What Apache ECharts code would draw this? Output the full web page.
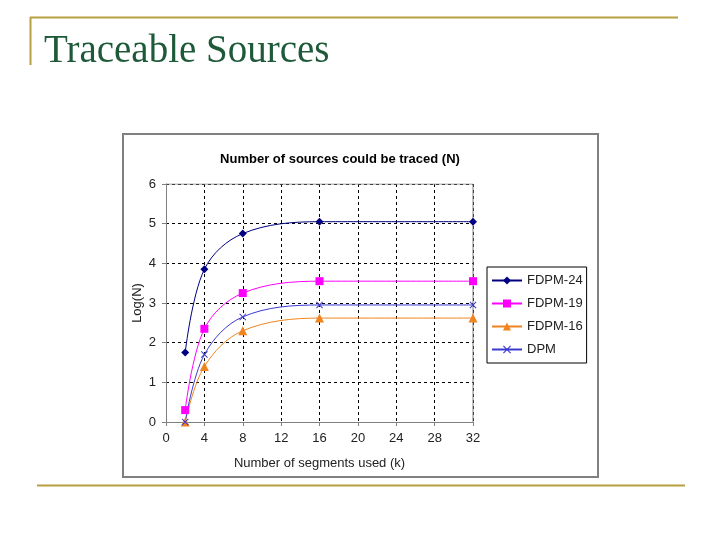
<!DOCTYPE html>
<html><head><meta charset="utf-8">
<script src="https://cdn.jsdelivr.net/npm/echarts@6/dist/echarts.min.js"></script>
<style>html,body{margin:0;padding:0;background:#fff}#c{width:720px;height:540px}</style>
</head><body><div id="c"></div>
<script>
var segments = [2, 4, 8, 16, 32];
var fdpm24 = [1.75, 3.85, 4.75, 5.05, 5.05];
var fdpm19 = [0.3, 2.35, 3.25, 3.55, 3.55];
var fdpm16 = [0.0, 1.4, 2.3, 2.62, 2.62];
var dpm = [0.0, 1.7, 2.65, 2.95, 2.95];
var seriesNames = ['FDPM-24', 'FDPM-19', 'FDPM-16', 'DPM'];
var xTicks = [0, 4, 8, 12, 16, 20, 24, 28, 32];
var yTicks = [0, 1, 2, 3, 4, 5, 6];

function pairs(v){ return segments.map(function(x,i){ return [x, v[i]]; }); }
var xPath = 'path://M0,1L1,0L5,4L9,0L10,1L6,5L10,9L9,10L5,6L1,10L0,9L4,5Z';
var colors = ['#000080', '#ff00ff', '#f0841e', '#3a3ad0'];
var symbols = ['diamond', 'rect', 'triangle', xPath];
var sizes = [8, 8, 9, 7];
var dataSets = [fdpm24, fdpm19, fdpm16, dpm];

var chart = echarts.init(document.getElementById('c'));
var font = 'Arial, "Liberation Sans", sans-serif';
chart.setOption({
  backgroundColor: '#fff',
  animation: false,
  graphic: [
    {type:'line', shape:{x1:30,y1:17.5,x2:678,y2:17.5}, style:{stroke:'#b8a040', lineWidth:2}},
    {type:'line', shape:{x1:30.5,y1:17,x2:30.5,y2:65}, style:{stroke:'#b8a040', lineWidth:2}},
    {type:'line', shape:{x1:37,y1:485.5,x2:685,y2:485.5}, style:{stroke:'#b8a040', lineWidth:2}},
    {type:'rect', z:-10, shape:{x:123,y:134,width:475,height:343}, style:{fill:'#fff', stroke:'#808080', lineWidth:2}},
    {type:'text', left:44, top:32, style:{text:'Traceable Sources', fill:'#1e5a3a', font:'39px "Liberation Serif", "Times New Roman", serif'}}
  ],
  title: {
    text: 'Number of sources could be traced (N)',
    left: 335, top: 148, textAlign: 'center',
    textStyle: {fontFamily: font, fontSize: 13, fontWeight: 'bold', color: '#000'}
  },
  legend: {
    orient: 'vertical', left: 487, top: 267,
    padding: [7, 4, 7, 4], itemGap: 10, itemWidth: 30, itemHeight: 10,
    borderColor: '#000', borderWidth: 1, backgroundColor: '#fff',
    data: seriesNames,
    textStyle: {fontFamily: font, fontSize: 13, color: '#222'}
  },
  grid: {left: 166, right: 247, top: 184, bottom: 118},
  xAxis: {
    type: 'value', min: 0, max: 32, interval: 4,
    name: 'Number of segments used (k)', nameLocation: 'middle', nameGap: 35,
    nameTextStyle: {fontFamily: font, fontSize: 13, color: '#222'},
    axisLine: {show: true, lineStyle: {color: '#808080'}},
    axisTick: {show: true, length: 4, lineStyle: {color: '#808080'}},
    axisLabel: {fontFamily: font, fontSize: 13, color: '#222', margin: 10,
      formatter: function(v){ return xTicks.indexOf(v) >= 0 ? String(v) : ''; }},
    splitLine: {show: true, lineStyle: {color: '#000', type: [3, 3], width: 1}}
  },
  yAxis: {
    type: 'value', min: 0, max: 6, interval: 1,
    name: 'Log(N)', nameLocation: 'middle', nameGap: 22, nameRotate: 90,
    nameTextStyle: {fontFamily: font, fontSize: 13, color: '#222'},
    axisLine: {show: true, lineStyle: {color: '#808080'}},
    axisTick: {show: true, length: 4, lineStyle: {color: '#808080'}},
    axisLabel: {fontFamily: font, fontSize: 13, color: '#222', margin: 10,
      formatter: function(v){ return yTicks.indexOf(v) >= 0 ? String(v) : ''; }},
    splitLine: {show: true, lineStyle: {color: '#000', type: [3, 3], width: 1}}
  },
  series: seriesNames.map(function(n, i){
    return {
      name: n, type: 'line', smooth: 0.35,
      data: pairs(dataSets[i]),
      symbol: symbols[i], symbolSize: sizes[i], showSymbol: true,
      lineStyle: {color: colors[i], width: 1},
      itemStyle: {color: colors[i]}
    };
  }).concat([{
    type: 'line', silent: true, data: [[32, 0], [32, 6]], symbol: 'none',
    lineStyle: {color: '#808080', width: 1}, z: 1
  }, {
    type: 'line', silent: true, data: [[0, 6], [32, 6]], symbol: 'none',
    lineStyle: {color: '#808080', width: 1}, z: 1
  }])
});
</script>
</body></html>
